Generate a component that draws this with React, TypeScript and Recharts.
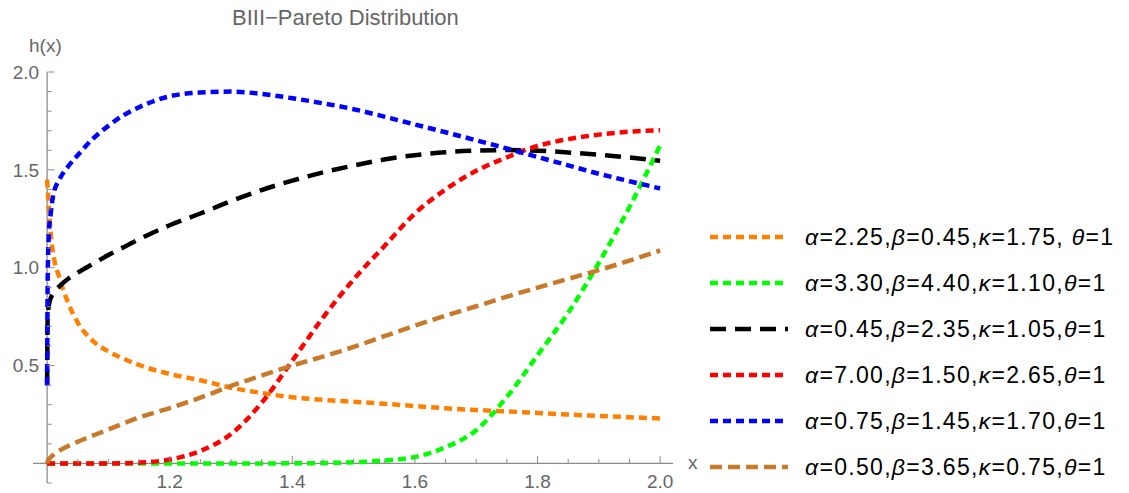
import React from "react";
import { LineChart, Line, XAxis, YAxis, ReferenceLine, Legend } from "recharts";

// x grid shared by every curve (dense near x = 1 where the curves shoot up/down)
const xGrid = [
  1, 1.001, 1.003, 1.006, 1.01, 1.02, 1.035, 1.05, 1.075, 1.1, 1.125, 1.15, 1.2, 1.25, 1.3,
  1.35, 1.4, 1.45, 1.5, 1.55, 1.6, 1.65, 1.7, 1.75, 1.8, 1.85, 1.9, 1.95, 2.0,
];

// h(x), one value per xGrid entry
const orangeH = [
  1.45, 1.4, 1.3, 1.17, 1.07, 0.95, 0.815, 0.72, 0.625, 0.572, 0.535, 0.503, 0.457, 0.425, 0.387,
  0.36, 0.338, 0.325, 0.315, 0.305, 0.293, 0.282, 0.273, 0.266, 0.258, 0.25, 0.243, 0.236, 0.23,
];
const greenH = [
  0, 0, 0, 0, 0, 0, 0, 0, 0, 0, 0, 0, 0, 0, 0,
  0, 0.0005, 0.002, 0.006, 0.015, 0.033, 0.083, 0.17, 0.34, 0.553, 0.77, 1.025, 1.31, 1.625,
];
const blackH = [
  0.4, 0.75, 0.81, 0.845, 0.87, 0.905, 0.945, 0.975, 1.02, 1.065, 1.105, 1.145, 1.217, 1.277, 1.34,
  1.397, 1.445, 1.487, 1.522, 1.553, 1.575, 1.59, 1.598, 1.601, 1.598, 1.589, 1.577, 1.563, 1.546,
];
const redH = [
  0, 0, 0, 0, 0, 0, 0, 0, 0, 0, 0.001, 0.004, 0.02, 0.064, 0.15,
  0.31, 0.525, 0.745, 0.94, 1.11, 1.277, 1.4, 1.495, 1.564, 1.622, 1.657, 1.68, 1.695, 1.702,
];
const blueH = [
  0.4, 0.95, 1.18, 1.28, 1.37, 1.45, 1.52, 1.575, 1.66, 1.725, 1.78, 1.82, 1.876, 1.895, 1.9,
  1.888, 1.866, 1.84, 1.81, 1.772, 1.732, 1.692, 1.651, 1.609, 1.566, 1.523, 1.48, 1.442, 1.405,
];
const brownH = [
  0, 0.012, 0.022, 0.032, 0.043, 0.065, 0.09, 0.111, 0.143, 0.173, 0.205, 0.235, 0.283, 0.336, 0.396,
  0.449, 0.5, 0.546, 0.595, 0.65, 0.704, 0.755, 0.803, 0.852, 0.898, 0.943, 0.988, 1.036, 1.088,
];

const seriesLabels = [
  "α=2.25,β=0.45,κ=1.75, θ=1",
  "α=3.30,β=4.40,κ=1.10,θ=1",
  "α=0.45,β=2.35,κ=1.05,θ=1",
  "α=7.00,β=1.50,κ=2.65,θ=1",
  "α=0.75,β=1.45,κ=1.70,θ=1",
  "α=0.50,β=3.65,κ=0.75,θ=1",
];

const xTicks = [
  1.05, 1.1, 1.15, 1.2, 1.25, 1.3, 1.35, 1.4, 1.45, 1.5, 1.55, 1.6, 1.65, 1.7, 1.75, 1.8, 1.85,
  1.9, 1.95, 2.0,
];
const xMajor = [1.2, 1.4, 1.6, 1.8, 2.0];
const yTicks = [
  -0.1, 0.1, 0.2, 0.3, 0.4, 0.5, 0.6, 0.7, 0.8, 0.9, 1.0, 1.1, 1.2, 1.3, 1.4, 1.5, 1.6, 1.7, 1.8,
  1.9, 2.0,
];
const yMajor = [0.5, 1.0, 1.5, 2.0];

const SERIES = [
  { key: "orange", values: orangeH, color: "#FF8000", dash: "8 5" },
  { key: "green", values: greenH, color: "#00FF00", dash: "8 5" },
  { key: "black", values: blackH, color: "#000000", dash: "16 9" },
  { key: "red", values: redH, color: "#FF0000", dash: "8 5" },
  { key: "blue", values: blueH, color: "#0000FF", dash: "8 5" },
  { key: "brown", values: brownH, color: "#C87A2A", dash: "12 6" },
];

const W = 1129;
const H = 493;
const X_MIN = 0.977;
const X_MAX = 2.021;
const Y_MIN = -0.1;
const Y_MAX = 2.0;
const MARGIN = { top: 72, right: 456, left: 0, bottom: 0 };
const Y_AXIS_W = 33;
const X_AXIS_H = 10;
const PLOT_W = W - MARGIN.right - Y_AXIS_W;
const PLOT_H = H - MARGIN.top - X_AXIS_H;
// where the axes cross (x = 1, y = 0) relative to the plot edges
const ZERO_FROM_BOTTOM = ((0 - Y_MIN) / (Y_MAX - Y_MIN)) * PLOT_H;
const ONE_FROM_LEFT = ((1 - X_MIN) / (X_MAX - X_MIN)) * PLOT_W;

const FONT = '"Liberation Sans", Arial, sans-serif';
const AXIS = "#8c8c8c";
const LABEL = "#666666";

const data = xGrid.map((x, i) => {
  const row: Record<string, number> = { x };
  SERIES.forEach((s) => (row[s.key] = s.values[i]));
  return row;
});

const isIn = (list: number[], v: number) => list.some((m) => Math.abs(m - v) < 1e-9);

const XTick = (props: any) => {
  const { x, y, payload } = props;
  const zy = y - ZERO_FROM_BOTTOM;
  const major = isIn(xMajor, payload.value);
  return (
    <g>
      <line x1={x} x2={x} y1={zy} y2={zy - (major ? 7.5 : 4.5)} stroke={AXIS} />
      {major && (
        <text x={x} y={zy + 25} textAnchor="middle" fill={LABEL} fontSize={19} fontFamily={FONT}>
          {payload.value.toFixed(1)}
        </text>
      )}
    </g>
  );
};

const YTick = (props: any) => {
  const { x, y, payload } = props;
  const zx = x + ONE_FROM_LEFT;
  const major = isIn(yMajor, payload.value);
  return (
    <g>
      <line x1={zx} x2={zx + (major ? 7.5 : 4.5)} y1={y} y2={y} stroke={AXIS} />
      {major && (
        <text x={zx - 8} y={y} dy="0.35em" textAnchor="end" fill={LABEL} fontSize={19} fontFamily={FONT}>
          {payload.value.toFixed(1)}
        </text>
      )}
    </g>
  );
};

const LabelText = ({ text }: { text: string }) => (
  <>
    {Array.from(text).map((ch, i) =>
      /[α-ω]/.test(ch) ? <i key={i}>{ch}</i> : <span key={i}>{ch}</span>
    )}
  </>
);

const renderLegend = () => (
  <div style={{ fontFamily: FONT, fontSize: 23, letterSpacing: 1.3, color: "#000" }}>
    {SERIES.map((s, i) => (
      <div key={s.key} style={{ display: "flex", alignItems: "center", height: 46 }}>
        <svg width={78} height={8}>
          <line x1={0} x2={78} y1={4} y2={4} stroke={s.color} strokeWidth={4.5} strokeDasharray={s.dash} />
        </svg>
        <span style={{ marginLeft: 17, whiteSpace: "pre" }}>
          <LabelText text={seriesLabels[i]} />
        </span>
      </div>
    ))}
  </div>
);

export default function App() {
  return (
    <div style={{ position: "absolute", left: 0, top: 0, width: W, height: H, fontFamily: FONT }}>
      <LineChart width={W} height={H} data={data} margin={MARGIN}>
        <XAxis
          dataKey="x"
          type="number"
          domain={[X_MIN, X_MAX]}
          allowDataOverflow
          ticks={xTicks}
          interval={0}
          height={X_AXIS_H}
          axisLine={false}
          tickLine={false}
          tickSize={0}
          tickMargin={0}
          tick={<XTick />}
        />
        <YAxis
          type="number"
          domain={[Y_MIN, Y_MAX]}
          allowDataOverflow
          ticks={yTicks}
          interval={0}
          width={Y_AXIS_W}
          axisLine={false}
          tickLine={false}
          tickSize={0}
          tickMargin={0}
          tick={<YTick />}
        />
        <ReferenceLine y={0} stroke={AXIS} strokeWidth={1.3} />
        <ReferenceLine x={1} stroke={AXIS} strokeWidth={1.3} />
        {SERIES.map((s) => (
          <Line
            key={s.key}
            dataKey={s.key}
            type="monotone"
            stroke={s.color}
            strokeWidth={4.5}
            strokeDasharray={s.dash}
            dot={false}
            activeDot={false}
            isAnimationActive={false}
          />
        ))}
        <Legend
          layout="horizontal"
          align="center"
          verticalAlign="middle"
          content={renderLegend}
          wrapperStyle={{ left: 710, top: 214, width: 419 }}
        />
      </LineChart>
      <svg
        width={W}
        height={H}
        style={{ position: "absolute", left: 0, top: 0, pointerEvents: "none" }}
      >
        <text x={232} y={25} fontSize={22} fill={LABEL} fontFamily={FONT}>
          BIII−Pareto Distribution
        </text>
        <text x={29} y={52} fontSize={19} fill={LABEL} fontFamily={FONT}>
          h(x)
        </text>
        <text x={688} y={469} fontSize={19} fill={LABEL} fontFamily={FONT}>
          x
        </text>
      </svg>
    </div>
  );
}
